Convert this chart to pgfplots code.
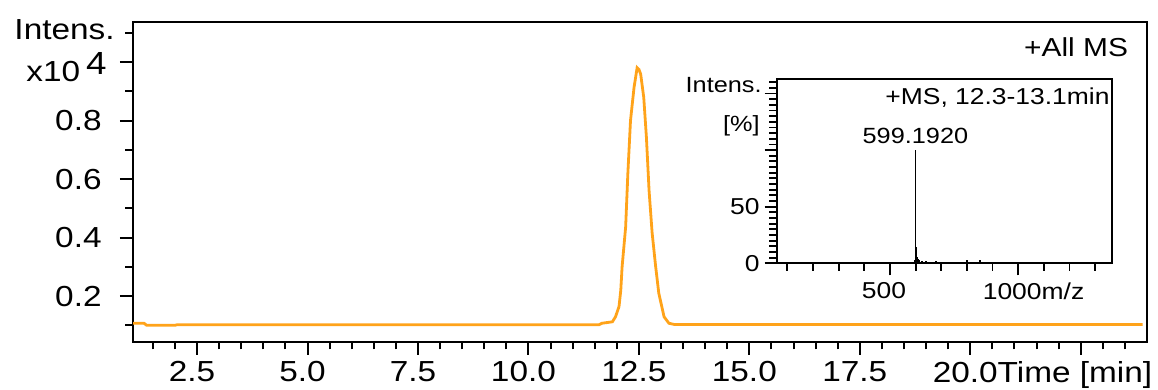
\documentclass[border=0pt]{standalone}
\usepackage{pgfplots}
\pgfplotsset{compat=1.18}
\usepackage{pgfplotstable}
\usepackage{fontspec}
\setmainfont{Liberation Sans}[FakeStretch=1.15]
\definecolor{chrom}{RGB}{255,163,26}

\pgfplotstableread{
t v
1.05 0.107
1.30 0.107
1.36 0.100
2.00 0.100
2.05 0.102
11.60 0.102
11.66 0.107
11.90 0.112
11.97 0.129
12.05 0.164
12.09 0.220
12.12 0.300
12.20 0.436
12.25 0.619
12.31 0.800
12.39 0.913
12.46 0.981
12.50 0.975
12.54 0.959
12.61 0.879
12.67 0.743
12.73 0.561
12.80 0.415
12.88 0.300
12.95 0.210
13.07 0.129
13.18 0.107
13.30 0.103
23.90 0.103
}\chromtab

\pgfplotstableread{
mz i
250 0.5
290 1.0
330 0.6
370 0.8
410 1.2
450 0.7
490 0.9
530 0.8
560 1.0
590 1.5
596 3
599.19 100
601 8
603 14
606 6
610 4
615 3
625 2
640 2
660 1.5
680 2
700 1.2
730 1
760 1.5
800 2.5
830 1
850 3
880 1
900 0.5
}\mstab

\begin{document}
\begin{tikzpicture}[x=1pt,y=1pt]
\useasboundingbox (0,0) rectangle (579,195);
\begin{axis}[
  at={(66.5pt,24pt)}, anchor=south west,
  width=507pt, height=160pt, scale only axis,
  xmin=1.05, xmax=24.0, ymin=0.043, ymax=1.137,
  axis line style={line width=1.1pt},
  tick align=outside, xtick pos=bottom, ytick pos=left,
  major tick length=6.5pt, minor tick length=3.75pt,
  major tick style={black, line width=1pt},
  minor tick style={black, line width=1pt},
  xtick={2.5,5,7.5,10,12.5,15,17.5,20,22.5},
  xticklabels={2.5,5.0,7.5,10.0,12.5,15.0,17.5,{20.0\rlap{Time [min]}},{}},
  minor xtick={1.5,2,...,23.5},
  ytick={0.2,0.4,0.6,0.8,1.0},
  yticklabels={0.2,0.4,0.6,0.8,{}},
  minor ytick={0.1,0.3,0.5,0.7,0.9,1.1},
  xticklabel style={anchor=north, inner sep=0pt, font=\fontsize{14.5}{17}\selectfont, xshift=-2.5pt},
  yticklabel style={anchor=east, inner sep=0pt, font=\fontsize{14.5}{17}\selectfont},
  xticklabel shift=3pt, yticklabel shift=9pt,
]
\addplot[chrom, line width=1.4pt, mark=none] table[x=t, y=v] {\chromtab};
\end{axis}

\node[anchor=base east, inner sep=0pt, font=\fontsize{14.5}{17}\selectfont] at (57.5,175) {Intens.};
\node[anchor=base east, inner sep=0pt, font=\fontsize{14.5}{17}\selectfont] at (53.5,154) {x10\hspace{3pt}\raisebox{3.5pt}{\fontsize{16}{18}\selectfont 4}};
\node[anchor=base east, inner sep=0pt, font=\fontsize{13}{15}\selectfont] at (564.2,166.6) {+All MS};

\begin{axis}[
  at={(388.3pt,63.35pt)}, anchor=south west,
  width=167.5pt, height=92pt, scale only axis,
  axis background/.style={fill=white},
  xmin=58, xmax=1364, ymin=0, ymax=162.5,
  axis line style={line width=1pt},
  tick align=outside, xtick pos=bottom, ytick pos=left,
  major tick length=6pt, minor tick length=3.75pt,
  major tick style={black, line width=0.9pt},
  minor tick style={black, line width=0.9pt},
  xtick={500,1000},
  xticklabels={500,{1000\rlap{m/z}}},
  minor xtick={100,200,...,1300},
  ytick={0,50,100,150},
  yticklabels={0,50,{},{}},
  minor ytick={5,10,...,160},
  xticklabel style={anchor=north, inner sep=0pt, font=\fontsize{11.5}{13}\selectfont, xshift=-3pt},
  yticklabel style={anchor=east, inner sep=0pt, font=\fontsize{11.5}{13}\selectfont},
  xticklabel shift=3.5pt, yticklabel shift=2.3pt,
]
\addplot[ycomb, black, line width=0.9pt, mark=none] table[x=mz, y=i] {\mstab};
\node[anchor=base, inner sep=0pt, yshift=3.4pt, font=\fontsize{11}{13}\selectfont] at (axis cs:599.19,100) {599.1920};
\end{axis}

\node[anchor=base east, inner sep=0pt, font=\fontsize{11.5}{13}\selectfont] at (555,142.5) {+MS, 12.3-13.1min};
\node[anchor=base east, inner sep=0pt, font=\fontsize{11}{13}\selectfont] at (381,148.5) {Intens.};
\node[anchor=base east, inner sep=0pt, font=\fontsize{11}{13}\selectfont] at (380,129) {[\%]};
\end{tikzpicture}
\end{document}
